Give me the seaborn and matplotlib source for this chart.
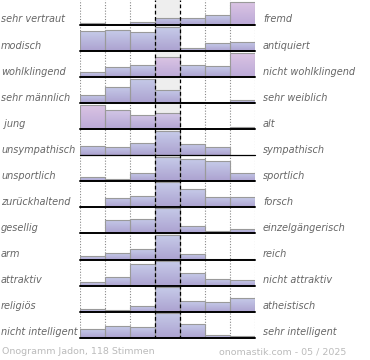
import numpy as np
import pandas as pd
import matplotlib
matplotlib.use("Agg")
import matplotlib.pyplot as plt
from matplotlib.colors import LinearSegmentedColormap
import seaborn as sns

sns.set_style("white")
plt.rcParams['font.family'] = ['DejaVu Sans']

left_labels = ["sehr vertraut", "modisch", "wohlklingend", "sehr männlich", " jung",
               "unsympathisch", "unsportlich", "zurückhaltend", "gesellig", "arm",
               "attraktiv", "religiös", "nicht intelligent"]
right_labels = ["fremd", "antiquiert", "nicht wohlklingend", "sehr weiblich", "alt",
                "sympathisch", "sportlich", "forsch", "einzelgängerisch", "reich",
                "nicht attraktiv", "atheistisch", "sehr intelligent"]
scale_steps = ["1", "2", "3", "4", "5", "6", "7"]

# relative vote shares per row
row_values = [
    [1.7, 0.7, 3.0, 7.3, 7.3, 10.0, 23.3],
    [19.7, 20.7, 18.7, 23.7, 3.3, 7.7, 9.3],
    [5.0, 9.7, 12.0, 20.3, 11.7, 11.0, 24.0],
    [8.5, 16.5, 24.3, 13.3, 1.3, 0.5, 2.7],
    [24.3, 19.0, 14.7, 16.0, 0.0, 0.0, 2.7],
    [9.8, 8.7, 12.7, 24.0, 11.8, 8.4, 0.0],
    [4.7, 2.0, 8.7, 24.0, 22.3, 20.0, 8.7],
    [0.0, 9.3, 11.0, 25.0, 18.0, 10.3, 10.0],
    [0.3, 13.0, 14.7, 25.0, 7.3, 2.3, 4.0],
    [3.3, 6.7, 10.7, 24.3, 5.3, 1.0, 1.0],
    [3.7, 9.0, 21.7, 25.0, 12.5, 7.0, 5.3],
    [2.7, 1.3, 5.3, 24.3, 10.7, 9.3, 13.3],
    [8.3, 11.3, 10.3, 25.0, 13.7, 3.0, 1.7],
]

# bar tone per row (b = blue, m = lavender, p = pink)
tones = [
    "bbbbbbp", "bbbbbbb", "bbbpbbp", "bbbbbbb", "pmmmbbb", "bbbbbbb", "bbbbbbb",
    "bbbbbbb", "bbbbbbb", "bbbbbbb", "bbbbbbb", "bbbbbbb", "bbbbbbb",
]
tone_cols = {
    "b": ("#aca2d0", "#c6cbe9"),
    "m": ("#b4a6d4", "#d2c6e6"),
    "p": ("#bcaad8", "#dcc5e4"),
}

W, H = 370, 360
fig = plt.figure(figsize=(W / 100, H / 100), dpi=100)

x0, x1 = 80, 255
row_h = 26.06
first_base = 25.0
last_base = first_base + row_h * 12
fx = x0 / W
fw = (x1 - x0) / W

# background axes: grey centre column + dotted separators
bg = fig.add_axes([fx, 1 - (last_base + 1.5) / H, fw, (last_base + 1.5) / H], zorder=0)
bg.set_xlim(-0.5, 6.5)
bg.set_ylim(0, 1)
bg.axis("off")
bg.axvspan(2.5, 3.5, color="#eeeeee", lw=0)
for xv in np.arange(-0.5, 7.0, 1.0):
    if xv in (2.5, 3.5):
        continue
    bg.axvline(xv, color="#888888", lw=0.8, ls=(0, (1, 1.5)))

for i in range(13):
    base = first_base + row_h * i
    ax = fig.add_axes([fx, 1 - base / H, fw, row_h / H], zorder=1)
    ax.patch.set_alpha(0)
    df = pd.DataFrame({"step": scale_steps, "value": row_values[i]})
    sns.barplot(data=df, x="step", y="value", ax=ax, color="#c6cbe9", width=1.0,
                saturation=1, edgecolor="#9a9a9a", linewidth=0.8)
    for j, p in enumerate(ax.patches):
        h = p.get_height()
        if h <= 0:
            p.set_visible(False)
            continue
        c0, c1 = tone_cols[tones[i][j]]
        cmap = LinearSegmentedColormap.from_list("g", [c0, c1])
        grad = np.linspace(1, 0, 64).reshape(-1, 1)
        xl = p.get_x()
        im = ax.imshow(grad, extent=[xl, xl + p.get_width(), 0, h], aspect="auto",
                       cmap=cmap, vmin=0, vmax=1, zorder=1.5, interpolation="bilinear")
        im.set_clip_path(p)
        p.set_facecolor("none")
        p.set_zorder(2)
    ax.axhline(0, color="black", lw=0.9 if i == 5 else 1.4, zorder=3, clip_on=False)
    ax.set_xlim(-0.5, 6.5)
    ax.set_ylim(0, row_h)
    ax.axis("off")
    ty = 1 - (base - 5.5) / H
    fig.text(1 / W, ty, left_labels[i], ha="left", va="center", style="italic",
             color="#666666", fontsize=7)
    fig.text(263 / W, ty, right_labels[i], ha="left", va="center", style="italic",
             color="#666666", fontsize=7)

# overlay: dashed centre column borders
ov = fig.add_axes([fx, 1 - (last_base + 1.5) / H, fw, (last_base + 1.5) / H], zorder=5)
ov.patch.set_alpha(0)
ov.set_xlim(-0.5, 6.5)
ov.set_ylim(0, 1)
ov.axis("off")
for xv in (2.5, 3.5):
    ov.axvline(xv, color="black", lw=0.9, ls=(0, (3, 2)))

fig.text(2 / W, 1 - 352 / H, "Onogramm Jadon, 118 Stimmen", ha="left", va="center",
         color="#bbbbbb", fontsize=6.8)
fig.text(346 / W, 1 - 352 / H, "onomastik.com - 05 / 2025", ha="right", va="center",
         color="#bbbbbb", fontsize=6.8)

fig.savefig("out.png", dpi=100)
